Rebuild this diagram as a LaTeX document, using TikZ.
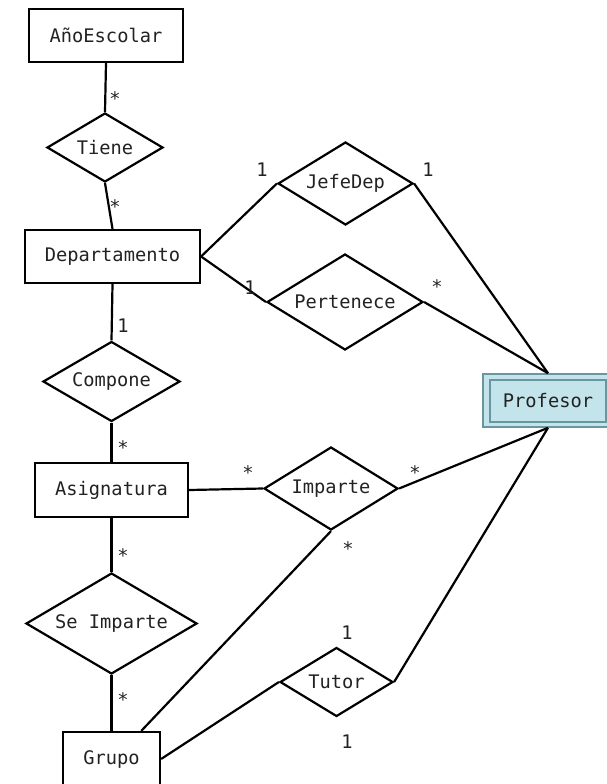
\documentclass[tikz,border=0pt]{standalone}
\usepackage{fontspec}
\setmonofont{DejaVu Sans Mono}
\usetikzlibrary{shapes.geometric,calc}
\definecolor{txt}{HTML}{222222}
\definecolor{proffill}{HTML}{C4E4EC}
\definecolor{profline}{HTML}{6A969F}
\begin{document}
\begin{tikzpicture}[x=1pt,y=-1pt,
  every node/.style={font=\ttfamily\fontsize{18.7}{21}\selectfont, text=txt},
  entity/.style={draw, line width=2.2pt, rectangle, inner sep=0pt},
  rel/.style={draw, line width=2.2pt, diamond, inner sep=0pt},
  lbl/.style={inner sep=0pt},
  conn/.style={line width=2.2pt}]
\useasboundingbox (0,0) rectangle (606,784);

% entities
\node[entity, minimum width=154pt, minimum height=53pt] (anio) at (106,35.5) {AñoEscolar};
\node[entity, minimum width=175pt, minimum height=53pt] (dep) at (112.5,256.5) {Departamento};
\node[entity, minimum width=153pt, minimum height=54pt] (asig) at (111.5,490) {Asignatura};
\node[entity, minimum width=97pt, minimum height=54pt] (grupo) at (111.5,759) {Grupo};
\node[draw=profline, fill=proffill, line width=1.6pt, rectangle, inner sep=0pt,
      minimum width=130pt, minimum height=53pt] (prof) at (548,400.5) {};
\draw[profline, line width=1.6pt] ([shift={(8,7)}]prof.north west) rectangle ([shift={(-8,-6)}]prof.south east);
\node[text=txt] (proftxt) at (548,401) {Profesor};

% relationships
\node[rel, shape aspect=1.68, minimum width=116pt, minimum height=69pt] (tiene) at (105,147.5) {Tiene};
\node[rel, shape aspect=1.63, minimum width=135pt, minimum height=83pt] (jefe) at (345.5,183.5) {JefeDep};
\node[rel, shape aspect=1.63, minimum width=156pt, minimum height=96pt] (pert) at (345,302) {Pertenece};
\node[rel, shape aspect=1.71, minimum width=137pt, minimum height=80pt] (comp) at (111.5,381.5) {Compone};
\node[rel, shape aspect=1.61, minimum width=134pt, minimum height=83pt] (imp) at (331,488.5) {Imparte};
\node[rel, shape aspect=1.69, minimum width=171pt, minimum height=101pt] (seimp) at (111.5,623.5) {Se Imparte};
\node[rel, shape aspect=1.64, minimum width=113pt, minimum height=69pt] (tutor) at (336.5,682) {Tutor};

% connectors
\draw[conn] (anio.south) -- (tiene.north);
\draw[conn] (tiene.south) -- (dep.north);
\draw[conn] (dep.east) -- (jefe.west);
\draw[conn] (dep.east) -- (pert.west);
\draw[conn] (jefe.east) -- (prof.north);
\draw[conn] (pert.east) -- (prof.north);
\draw[conn] (dep.south) -- (comp.north);
\draw[conn] (comp.south) -- (asig.north);
\draw[conn] (asig.east) -- (imp.west);
\draw[conn] (imp.east) -- (prof.south);
\coordinate (gtop) at ($(grupo.north west)!0.8!(grupo.north east)$);
\draw[conn] (imp.south) -- (gtop);
\draw[conn] (asig.south) -- (seimp.north);
\draw[conn] (seimp.south) -- (grupo.north);
\draw[conn] (grupo.east) -- (tutor.west);
\draw[conn] (tutor.east) -- (prof.south);

% cardinalities
\node[lbl] (c1) at (115,99) {*};
\node[lbl] (c2) at (115,207) {*};
\node[lbl] (c3) at (262,170) {1};
\node[lbl] (c4) at (428,170) {1};
\node[lbl] (c5) at (250,288) {1};
\node[lbl] (c6) at (437,287) {*};
\node[lbl] (c7) at (123,326) {1};
\node[lbl] (c8) at (123,448) {*};
\node[lbl] (c9) at (248,473) {*};
\node[lbl] (c10) at (415,473) {*};
\node[lbl] (c11) at (348,549) {*};
\node[lbl] (c12) at (123,556) {*};
\node[lbl] (c13) at (123,700) {*};
\node[lbl] (c14) at (347,633) {1};
\node[lbl] (c15) at (347,742) {1};
\end{tikzpicture}
\end{document}
